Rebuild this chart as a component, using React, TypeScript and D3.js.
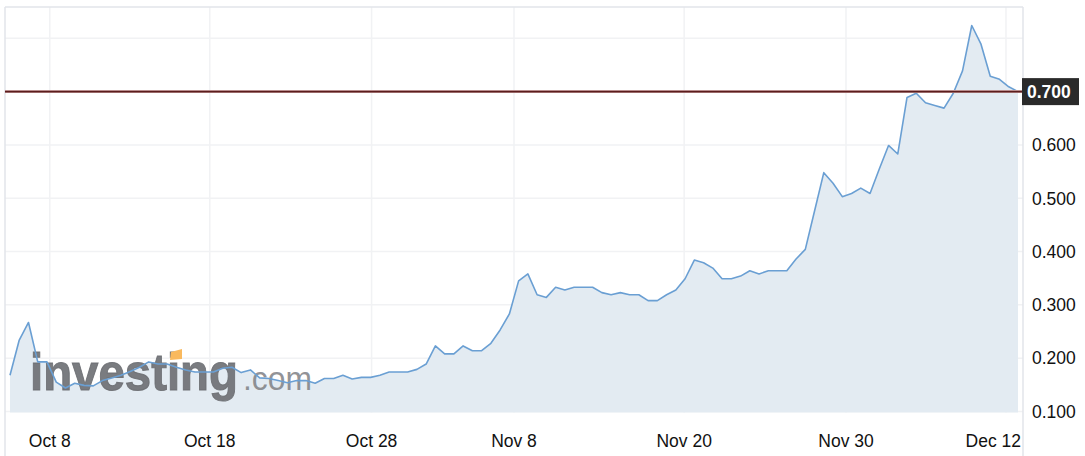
import * as d3 from "d3";

// price readings, one every step across the window
const prices = [
  0.168, 0.234, 0.267, 0.193, 0.193, 0.155, 0.144, 0.153, 0.149, 0.148,
  0.158, 0.163, 0.168, 0.175, 0.183, 0.193, 0.189, 0.189, 0.183, 0.178,
  0.174, 0.174, 0.174, 0.181, 0.183, 0.173, 0.178, 0.163, 0.162, 0.158,
  0.154, 0.158, 0.158, 0.153, 0.162, 0.162, 0.168, 0.161, 0.164, 0.164,
  0.168, 0.174, 0.174, 0.174, 0.179, 0.189, 0.223, 0.208, 0.208, 0.223,
  0.214, 0.214, 0.228, 0.253, 0.283, 0.345, 0.358, 0.319, 0.314, 0.333,
  0.328, 0.333, 0.333, 0.333, 0.323, 0.319, 0.323, 0.319, 0.319, 0.308,
  0.308, 0.319, 0.328, 0.349, 0.384, 0.379, 0.369, 0.349, 0.349, 0.354,
  0.364, 0.358, 0.364, 0.364, 0.364, 0.386, 0.404, 0.476, 0.548, 0.528,
  0.503, 0.509, 0.519, 0.509, 0.555, 0.599, 0.583, 0.689, 0.697, 0.679,
  0.674, 0.669, 0.697, 0.739, 0.824, 0.789, 0.729, 0.723, 0.709, 0.700,
];

const dateLabels = ["Oct 8", "Oct 18", "Oct 28", "Nov 8", "Nov 20", "Nov 30", "Dec 12"];
const dateAt = [4.3, 21.6, 39.1, 54.5, 72.9, 90.4, 107.7];
const priceTicks = [0.1, 0.2, 0.3, 0.4, 0.5, 0.6, 0.7];
const gridLevels = [0.1, 0.2, 0.3, 0.4, 0.5, 0.6, 0.7, 0.8];
const lastPrice = 0.7;

const width = 1085, height = 456;
const frameLeft = 5, frameRight = 1023, frameTop = 7;
const plotLeft = 10, plotRight = 1018, plotBottom = 412.5;
const font = "'Liberation Sans', Arial, Helvetica, sans-serif";

const App = () => {
  const x = d3.scaleLinear().domain([0, prices.length - 1]).range([plotLeft, plotRight]);
  const y = d3.scaleLinear().domain([0.1, 0.8]).range([411.5, 38.3]);

  const line = d3.line<number>().x((_, i) => x(i)).y(d => y(d));
  const area = d3.area<number>().x((_, i) => x(i)).y0(plotBottom).y1(d => y(d));

  const fmt = d3.format(".3f");

  return (
    <svg
      width={width}
      height={height}
      style={{ position: "absolute", left: 0, top: 0, display: "block", background: "#fff" }}
      fontFamily={font}
    >
      {/* grid */}
      <g stroke="#f1f2f4" strokeWidth={1.5}>
        {gridLevels.map(v => (
          <line key={v} x1={frameLeft} x2={frameRight} y1={y(v)} y2={y(v)} />
        ))}
        {dateAt.map(d => (
          <line key={d} x1={x(d)} x2={x(d)} y1={frameTop} y2={plotBottom} />
        ))}
      </g>

      {/* frame */}
      <g stroke="#e2e5ea" strokeWidth={1.5} fill="none">
        <line x1={frameLeft} x2={frameRight} y1={frameTop} y2={frameTop} />
        <line x1={frameLeft} x2={frameLeft} y1={frameTop} y2={height} />
        <line x1={frameRight} x2={frameRight} y1={frameTop} y2={height} />
      </g>

      <path d={area(prices) ?? ""} fill="#e3ebf2" />

      {/* watermark */}
      <g>
        <text x={30} y={390}>
          <tspan fontSize={52} fontWeight="bold" fill="#6c6e72" stroke="#6c6e72" strokeWidth={1}
            fillOpacity={0.9} strokeOpacity={0.9} textLength={208} lengthAdjust="spacingAndGlyphs">investing</tspan>
          <tspan x={243} fontSize={33} fill="#7e8084" fillOpacity={0.85}
            textLength={69} lengthAdjust="spacingAndGlyphs">.com</tspan>
        </text>
        <path d="M171,352 L182,349 L182,359 L170,360 Z" fill="#f9b95e" />
      </g>

      <path d={line(prices) ?? ""} fill="none" stroke="#6a9fd3" strokeWidth={1.6} strokeLinejoin="round" />

      {/* x labels */}
      <g fontSize={17.5} fill="#111">
        {dateLabels.map((t, i) => {
          const px = x(dateAt[i]);
          const clamp = px + 29 > frameRight;
          return (
            <text key={t} x={clamp ? frameRight - 2 : px} y={447} textAnchor={clamp ? "end" : "middle"}>
              {t}
            </text>
          );
        })}
      </g>

      {/* y labels (the last price tag covers its own level) */}
      <g fontSize={17.5} fill="#111">
        {priceTicks.filter(v => v !== lastPrice).map(v => (
          <text key={v} x={1032} y={y(v)} dy="0.36em">{fmt(v)}</text>
        ))}
      </g>

      {/* last price line + tag */}
      <line x1={frameLeft} x2={frameRight} y1={y(lastPrice)} y2={y(lastPrice)} stroke="#d9b3b3" strokeWidth={3} />
      <line x1={frameLeft} x2={frameRight} y1={y(lastPrice)} y2={y(lastPrice)} stroke="#5b1d1d" strokeWidth={1.6} />
      <rect x={frameRight - 1} y={y(lastPrice) - 13.5} width={57} height={27} fill="#2a2a2a" />
      <text x={1027} y={y(lastPrice)} dy="0.36em" fontSize={17.5} fontWeight="bold" fill="#fff">
        {fmt(lastPrice)}
      </text>
    </svg>
  );
};

export default App;
